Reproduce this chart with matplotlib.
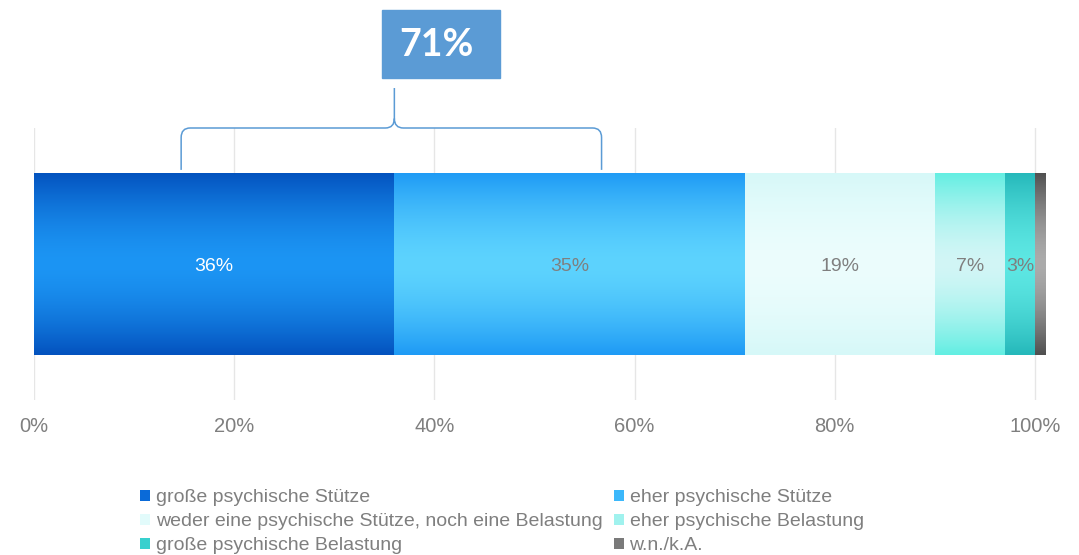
import matplotlib.pyplot as plt
import numpy as np
from matplotlib.colors import to_rgb
from matplotlib.patches import Rectangle, Patch
from matplotlib.path import Path
from matplotlib.patches import PathPatch
import matplotlib.transforms as mtransforms

plt.rcParams['font.family'] = ['Liberation Sans', 'DejaVu Sans']

# ---------- data ----------
categories = [
    "große psychische Stütze",
    "eher psychische Stütze",
    "weder eine psychische Stütze, noch eine Belastung",
    "eher psychische Belastung",
    "große psychische Belastung",
    "w.n./k.A.",
]
values = [36, 35, 19, 7, 3, 1]
value_labels = ["36%", "35%", "19%", "7%", "3%", ""]
tick_values = [0, 20, 40, 60, 80, 100]
tick_labels = ["0%", "20%", "40%", "60%", "80%", "100%"]

# gradient colours (edge, middle) per segment
edge_colors = ["#0352be", "#1e9af5", "#d6f8f8", "#62eee2", "#25b8ba", "#4f4f4f"]
mid_colors = ["#1c95f4", "#5dd3fe", "#ecfdfd", "#d2f6f6", "#5de7e3", "#ababab"]
label_colors = ["white", "#7f7f7f", "#7f7f7f", "#7f7f7f", "#7f7f7f", "#7f7f7f"]
accent = "#5b9bd5"

W, H = 1079, 555
fig = plt.figure(figsize=(W / 100, H / 100), dpi=100)
ax = fig.add_axes([34 / W, 1 - 400 / H, 1011 / W, 272 / H])

# ---------- bars with vertical gradient ----------
lefts = np.concatenate([[0], np.cumsum(values)[:-1]])
bars = ax.barh(0, values, left=lefts, height=1.0, color=mid_colors, zorder=2)

ys = np.linspace(0, 1, 200)
prof = (np.abs(ys - 0.5) * 2) ** 1.6
for bar, ec, mc in zip(bars, edge_colors, mid_colors):
    e, m = np.array(to_rgb(ec)), np.array(to_rgb(mc))
    grad = m[None, :] + (e - m)[None, :] * prof[:, None]
    img = np.repeat(grad[:, None, :], 2, axis=1)
    x0 = bar.get_x()
    im = ax.imshow(img, extent=[x0, x0 + bar.get_width(), -0.5, 0.5],
                   aspect="auto", origin="lower", zorder=3, interpolation="bilinear")
    im.set_clip_path(bar)

for bar, lab, c in zip(bars, value_labels, label_colors):
    if lab:
        ax.text(bar.get_x() + bar.get_width() / 2, -0.015, lab, ha="center", va="center",
                color=c, fontsize=14, zorder=4)

ax.set_xlim(0, 101)
ax.set_ylim(-0.747, 0.747)

# ---------- axes styling ----------
ax.set_xticks(tick_values)
ax.set_xticklabels(tick_labels, fontsize=14.5, color="#7f7f7f")
ax.tick_params(axis="x", length=0, pad=12)
ax.set_yticks([])
for s in ax.spines.values():
    s.set_visible(False)
ax.grid(axis="x", color="#e6e6e6", lw=1, zorder=0)
ax.set_axisbelow(True)

# ---------- brace + 71% box ----------
total = values[0] + values[1]
bx0, bx1, btip = 14.7, 56.7, 36
trans = mtransforms.blended_transform_factory(ax.transData, ax.transAxes)
yb, yh, yt = 0.846, 1.0, 1.147
dx, dy = 0.9, 0.035
verts = [
    (bx0, yb), (bx0, yh - dy), (bx0, yh), (bx0 + dx, yh),
    (btip - dx, yh), (btip, yh), (btip, yh + dy),
    (btip, yt),
    (btip, yh + dy), (btip, yh), (btip + dx, yh),
    (bx1 - dx, yh), (bx1, yh), (bx1, yh - dy),
    (bx1, yb),
]
codes = [Path.MOVETO, Path.LINETO, Path.CURVE3, Path.CURVE3,
         Path.LINETO, Path.CURVE3, Path.CURVE3,
         Path.LINETO,
         Path.MOVETO, Path.CURVE3, Path.CURVE3,
         Path.LINETO, Path.CURVE3, Path.CURVE3,
         Path.LINETO]
ax.add_patch(PathPatch(Path(verts, codes), transform=trans, fill=False,
                       edgecolor=accent, lw=1.1, clip_on=False))

fig.patches.append(Rectangle((382 / W, 1 - 78 / H), 118 / W, 68 / H,
                             transform=fig.transFigure, color=accent, zorder=1))
fig.text(436 / W, 1 - 45 / H, f"{total}%", ha="center", va="center",
         color="white", fontsize=27, fontweight="bold", family="Lato")

# ---------- legend ----------
handles = [Patch(facecolor=c) for c in
           ["#0a6ad8", "#3cb8fb", "#e2fbfb", "#a0f2ee", "#38d0ce", "#7a7a7a"]]
order = [0, 2, 4, 1, 3, 5]
fig.legend([handles[i] for i in order], [categories[i] for i in order],
           ncol=2, loc="upper left", bbox_to_anchor=(140 / W, 1 - 489 / H),
           frameon=False, fontsize=14, labelcolor="#7f7f7f",
           handlelength=0.5, handleheight=0.5, handletextpad=0.3,
           columnspacing=0.6, labelspacing=0.37, borderpad=0, borderaxespad=0)

fig.savefig("out.png", dpi=100)
